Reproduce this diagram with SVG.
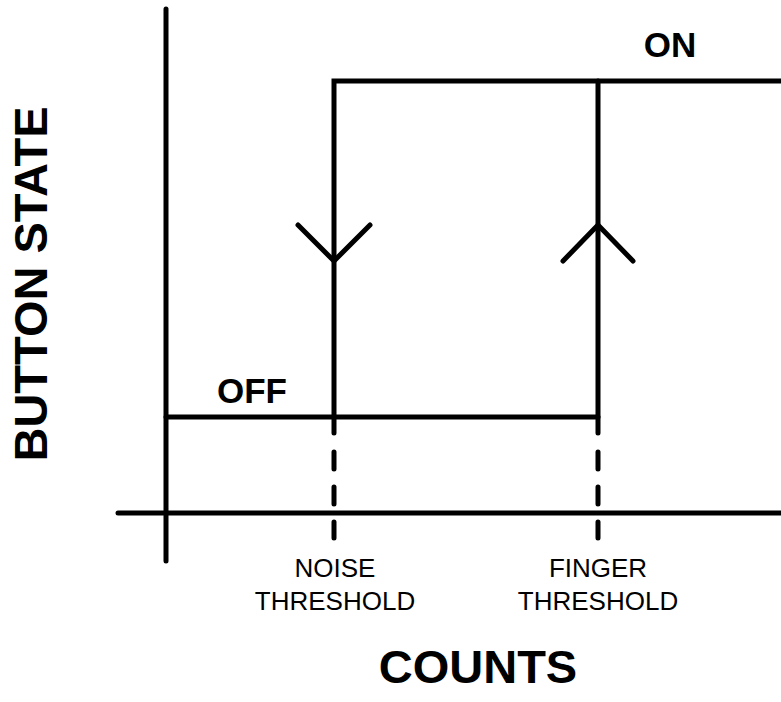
<svg xmlns="http://www.w3.org/2000/svg" width="781" height="702" viewBox="0 0 781 702">
<style>
.ln{fill:none;stroke:#000;stroke-width:5;stroke-linecap:round;stroke-linejoin:round}
.b{font-family:"Liberation Sans",Arial,sans-serif;font-weight:bold;fill:#000;text-anchor:middle}
.r{font-family:"Liberation Sans",Arial,sans-serif;fill:#000;text-anchor:middle;font-size:26px}
</style>
<rect width="781" height="702" fill="#fff"/>
<g id="axes">
<path class="ln" d="M166 9V561"/>
<path class="ln" d="M118 513H783"/>
</g>
<g id="connectors">
<path class="ln" d="M166 417H598"/>
<path class="ln" style="stroke-linejoin:miter" d="M334 418V81H783"/>
<path class="ln" d="M598 81V418"/>
<path class="ln" d="M298 225L334 261L370 225"/>
<path class="ln" d="M563 261L598 225L633 261"/>
<path class="ln" d="M334 420V433M334 452V469M334 487V504M334 522V538"/>
<path class="ln" d="M598 420V433M598 452V469M598 487V504M598 522V538"/>
</g>
<g id="labels">
<text class="b" x="670" y="57" font-size="35">ON</text>
<text class="b" x="252" y="403" font-size="35">OFF</text>
<text class="b" x="478" y="683" font-size="47">COUNTS</text>
<text class="b" font-size="47" transform="translate(47 284) rotate(-90)">BUTTON STATE</text>
<text class="r" x="335" y="577">NOISE</text>
<text class="r" x="335" y="610">THRESHOLD</text>
<text class="r" x="598" y="577">FINGER</text>
<text class="r" x="598" y="610">THRESHOLD</text>
</g>
</svg>
